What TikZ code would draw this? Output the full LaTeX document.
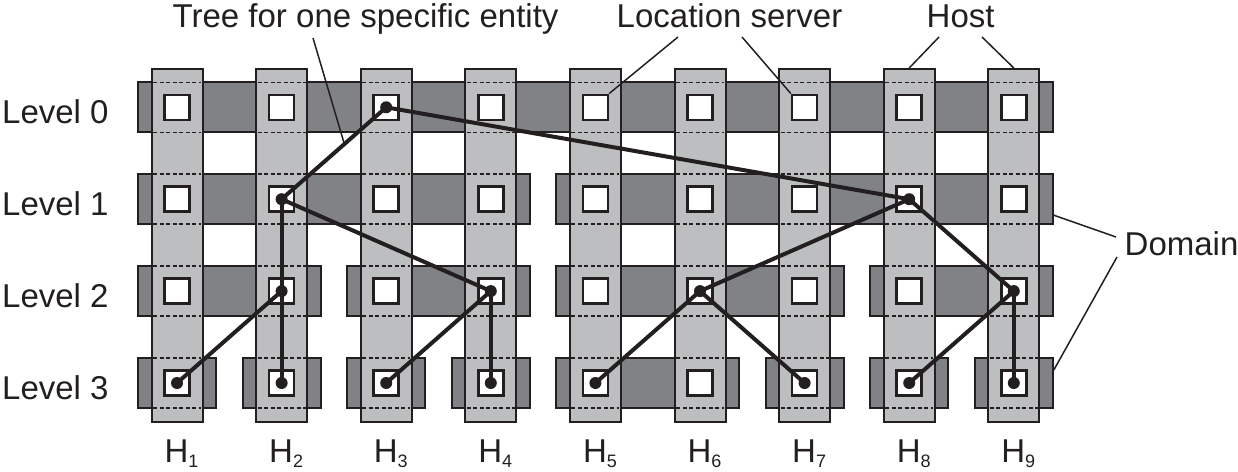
\documentclass[tikz,border=0pt]{standalone}
\usepackage{fontspec}
\setmainfont{Liberation Sans}
\usetikzlibrary{calc}
\definecolor{bandgray}{RGB}{128,130,133}
\definecolor{hostgray}{RGB}{188,190,192}
\definecolor{ink}{RGB}{35,31,32}
\begin{document}
\begin{tikzpicture}[x=1pt,y=-1pt,
  band/.style={draw=ink, fill=bandgray, line width=2pt, inner sep=0, minimum height=50pt},
  hostcol/.style={draw=ink, fill=hostgray, line width=2pt, inner sep=0, minimum width=51pt, minimum height=353pt},
  dashline/.style={draw=ink, line width=1.5pt, dash pattern=on 4pt off 2.5pt},
  server/.style={draw=ink, fill=white, line width=2.5pt, inner sep=0, minimum size=25pt},
  treeline/.style={draw=ink, line width=4pt, line cap=round},
  leader/.style={draw=ink, line width=1.5pt},
  lbl/.style={font=\fontsize{33}{40}\selectfont, text=ink, inner sep=0, anchor=base west},
  sublbl/.style={font=\fontsize{18}{20}\selectfont}
]
\useasboundingbox (0,0) rectangle (1238,471);
% domains
\foreach \l/\a/\b/\k in {0/1/9/1, 1/1/4/1, 1/5/9/2, 2/1/2/1, 2/3/4/2, 2/5/7/3, 2/8/9/4,
  3/1/1/1, 3/2/2/2, 3/3/3/3, 3/4/4/4, 3/5/6/5, 3/7/7/6, 3/8/8/7, 3/9/9/8}{
  \pgfmathsetmacro\ry{107.3+91.9*\l}
  \pgfmathsetmacro\cx{177+104.6*(\a+\b-2)/2}
  \pgfmathsetmacro\w{104.6*(\b-\a)+78}
  \node[band, minimum width=\w pt] (d-\l-\k) at (\cx,\ry) {};
}
% hosts
\foreach \i in {1,...,9}{
  \pgfmathsetmacro\cx{177+104.6*(\i-1)}
  \node[hostcol] (h\i) at (\cx,245.5) {};
  \foreach \l in {0,...,3}{
    \pgfmathsetmacro\ry{107.3+91.9*\l}
    \draw[dashline] ({\cx-24},{\ry-25}) -- ({\cx+24},{\ry-25});
    \draw[dashline] ({\cx-24},{\ry+25}) -- ({\cx+24},{\ry+25});
    \node[server] (s-\i-\l) at (\cx,\ry) {};
  }
  \node[lbl] (hl\i) at ({\cx-12.6},462) {H\raisebox{-5pt}{\fontsize{18}{20}\selectfont\i}};
}
% tree
\foreach \p/\c in {3-0/2-1, 3-0/8-1, 2-1/2-2, 2-1/4-2, 2-2/1-3, 2-2/2-3, 4-2/3-3, 4-2/4-3,
  8-1/6-2, 8-1/9-2, 6-2/5-3, 6-2/7-3, 9-2/8-3, 9-2/9-3}{
  \draw[treeline] (s-\p.center) -- (s-\c.center);
}
\foreach \n in {3-0, 2-1, 8-1, 2-2, 4-2, 6-2, 9-2, 1-3, 2-3, 3-3, 4-3, 5-3, 7-3, 8-3, 9-3}{
  \fill[ink] (s-\n.center) circle (6);
}
% level labels
\foreach \l in {0,...,3}{
  \pgfmathsetmacro\ry{107.3+91.9*\l+16.5}
  \node[lbl] (lev\l) at (2,\ry) {Level \l};
}
% top labels
\node[lbl] (tree) at (172.5,27.3) {Tree for one specific entity};
\node[lbl] (loc) at (616.5,27.3) {Location server};
\node[lbl] (host) at (926.5,27.3) {Host};
\node[lbl] (dom) at (1124.5,255) {Domain};
% leaders
\coordinate (t1) at (313,38);
\coordinate (l1) at (678,37);
\coordinate (l2) at (742,37);
\coordinate (o1) at (939,37);
\coordinate (o2) at (982,37);
\coordinate (m1) at (1116,237);
\coordinate (m2) at (1117,257);
\draw[leader] (t1) -- ($(s-3-0.center)!0.4!(s-2-1.center)$);
\draw[leader] (l1) -- (s-5-0.north east);
\draw[leader] (l2) -- (s-7-0.north west);
\draw[leader] (o1) -- (h8.north);
\draw[leader] (o2) -- (h9.north);
\draw[leader] (m1) -- ($(d-1-2.east)+(0,16)$);
\draw[leader] (m2) -- ($(d-3-8.east)+(0,-13)$);
\end{tikzpicture}
\end{document}
